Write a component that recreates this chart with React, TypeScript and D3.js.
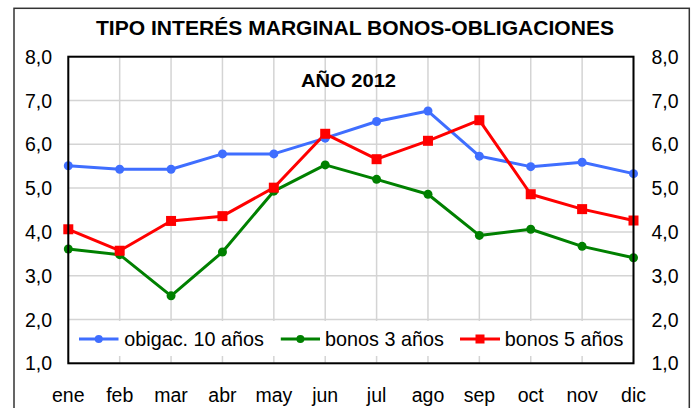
import React from "react";
import * as d3 from "d3";

const months = ["ene", "feb", "mar", "abr", "may", "jun", "jul", "ago", "sep", "oct", "nov", "dic"];
const obligac10 = [5.51, 5.43, 5.43, 5.78, 5.78, 6.14, 6.52, 6.76, 5.73, 5.49, 5.59, 5.33];
const bonos3 = [3.61, 3.48, 2.54, 3.54, 4.93, 5.53, 5.2, 4.86, 3.92, 4.06, 3.67, 3.41];
const bonos5 = [4.06, 3.57, 4.25, 4.36, 5.01, 6.24, 5.66, 6.08, 6.55, 4.86, 4.52, 4.26];
const yTicks = [1, 2, 3, 4, 5, 6, 7, 8];
const seriesNames = ["obigac. 10 años", "bonos 3 años", "bonos 5 años"];
const titleText = "TIPO INTERÉS MARGINAL BONOS-OBLIGACIONES";
const subtitleText = "AÑO 2012";

const BLUE = "#3F6EFF";
const GREEN = "#008000";
const RED = "#FF0000";
const FONT = "'Liberation Sans', Arial, sans-serif";

export default function App() {
  const W = 692, H = 408;
  const left = 68.3, right = 633.5, top = 56.7, bottom = 363.3;
  const x = d3.scalePoint<string>().domain(months).range([left, right]);
  const y = d3.scaleLinear().domain([1, 8]).range([bottom, top]);
  const line = d3
    .line<number>()
    .x((_, i) => x(months[i]) as number)
    .y((v) => y(v));

  const series = [
    { name: seriesNames[0], data: obligac10, color: BLUE, marker: "circle" },
    { name: seriesNames[1], data: bonos3, color: GREEN, marker: "circle" },
    { name: seriesNames[2], data: bonos5, color: RED, marker: "square" },
  ];

  const marker = (kind: string, cx: number, cy: number, color: string, key: string | number) =>
    kind === "circle" ? (
      <circle key={key} cx={cx} cy={cy} r={4.5} fill={color} />
    ) : (
      <rect key={key} x={cx - 5} y={cy - 5} width={10} height={10} fill={color} />
    );

  const legendItems = [
    { lx1: 79, lx2: 118.5, tx: 124.3 },
    { lx1: 280.8, lx2: 320, tx: 325 },
    { lx1: 460, lx2: 500, tx: 504.7 },
  ];
  const legendY = 339;

  return (
    <svg width={W} height={H} style={{ position: "absolute", left: 0, top: 0, background: "#fff" }} fontFamily={FONT}>
      <rect x={0} y={0} width={W} height={H} fill="#fff" />
      {/* outer border */}
      <rect x={14} y={8.3} width={675.3} height={420} fill="none" stroke="#333" strokeWidth={1.5} />
      {/* title */}
      <text x={355} y={34.5} textAnchor="middle" fontSize={19.5} fontWeight="bold" textLength={518} lengthAdjust="spacingAndGlyphs" fill="#000">
        {titleText}
      </text>
      {/* gridlines */}
      {yTicks.map((t) => (
        <line key={"gy" + t} x1={left} x2={right} y1={y(t)} y2={y(t)} stroke="#D4D4D4" strokeWidth={1.5} />
      ))}
      {months.map((m) => (
        <line key={"gx" + m} x1={x(m)} x2={x(m)} y1={top} y2={bottom} stroke="#D4D4D4" strokeWidth={1.5} />
      ))}
      {/* subtitle */}
      <text x={348.5} y={86.5} textAnchor="middle" fontSize={18} fontWeight="bold" textLength={95} lengthAdjust="spacingAndGlyphs" fill="#000">
        {subtitleText}
      </text>
      {/* lines */}
      {series.map((s) => (
        <path key={"l" + s.name} d={line(s.data) || ""} fill="none" stroke={s.color} strokeWidth={3} strokeLinejoin="round" />
      ))}
      {series.map((s) => (
        <g key={"m" + s.name}>{s.data.map((v, i) => marker(s.marker, x(months[i]) as number, y(v), s.color, i))}</g>
      ))}
      {/* legend */}
      <rect x={left} y={321} width={right - left} height={35} fill="#fff" />
      {series.map((s, i) => (
        <g key={"lg" + s.name}>
          <line x1={legendItems[i].lx1} x2={legendItems[i].lx2} y1={legendY} y2={legendY} stroke={s.color} strokeWidth={3} />
          {s.marker === "circle" ? (
            <circle cx={(legendItems[i].lx1 + legendItems[i].lx2) / 2} cy={legendY} r={4} fill={s.color} />
          ) : (
            <rect x={(legendItems[i].lx1 + legendItems[i].lx2) / 2 - 4.5} y={legendY - 4.5} width={9} height={9} fill={s.color} />
          )}
          <text x={legendItems[i].tx} y={legendY + 7} fontSize={19.8} fill="#000">
            {s.name}
          </text>
        </g>
      ))}
      {/* plot border */}
      <rect x={left} y={top} width={right - left} height={bottom - top} fill="none" stroke="#000" strokeWidth={2} />
      {/* y axis labels */}
      {yTicks.map((t) => (
        <text key={"yl" + t} x={52} y={y(t) + 7} textAnchor="end" fontSize={19.5} fill="#000">
          {d3.format(".1f")(t).replace(".", ",")}
        </text>
      ))}
      {yTicks.map((t) => (
        <text key={"yr" + t} x={651.5} y={y(t) + 7} textAnchor="start" fontSize={19.5} fill="#000">
          {d3.format(".1f")(t).replace(".", ",")}
        </text>
      ))}
      {/* x labels */}
      {months.map((m) => (
        <text key={"xl" + m} x={x(m)} y={402} textAnchor="middle" fontSize={19.5} fill="#000">
          {m}
        </text>
      ))}
    </svg>
  );
}
